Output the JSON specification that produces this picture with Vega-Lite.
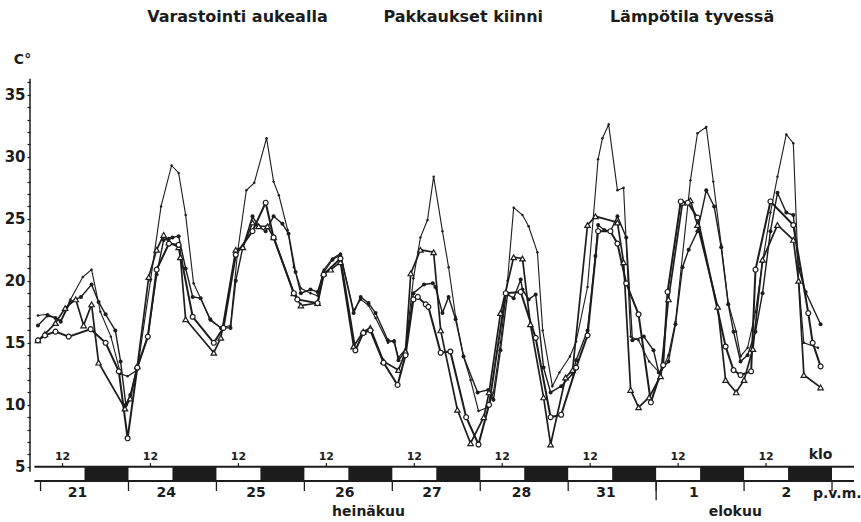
{
  "$schema": "https://vega.github.io/schema/vega-lite/v6.json",
  "width": 824,
  "height": 434,
  "autosize": {"type": "none"},
  "padding": {"left": 30, "top": 70, "right": 7, "bottom": 18},
  "background": "white",
  "title": {
    "text": "Varastointi aukealla\u00a0\u00a0\u00a0\u00a0\u00a0\u00a0\u00a0\u00a0\u00a0\u00a0Pakkaukset kiinni\u00a0\u00a0\u00a0\u00a0\u00a0\u00a0\u00a0\u00a0\u00a0\u00a0\u00a0\u00a0Lämpötila tyvessä",
    "anchor": "start",
    "dx": 143,
    "offset": 27,
    "font": "DejaVu Sans",
    "fontSize": 16,
    "fontWeight": "bold",
    "color": "#1c1c1c"
  },
  "config": {"view": {"stroke": null}, "axis": {"grid": false}},
  "resolve": {"axis": {"x": "independent", "y": "independent"}},
  "datasets": {
    "series": [
      {"s":"P","t":-0.03,"v":17.2},{"s":"P","t":0.08,"v":17.3},{"s":"P","t":0.23,"v":16.8},{"s":"P","t":0.34,"v":18.5},{"s":"P","t":0.48,"v":20.3},{"s":"P","t":0.58,"v":20.9},{"s":"P","t":0.68,"v":17.5},{"s":"P","t":0.8,"v":15.5},{"s":"P","t":0.91,"v":12.5},{"s":"P","t":0.99,"v":12.3},{"s":"P","t":1.1,"v":12.8},{"s":"P","t":1.25,"v":20.0},{"s":"P","t":1.37,"v":26.0},{"s":"P","t":1.49,"v":29.3},{"s":"P","t":1.57,"v":28.7},{"s":"P","t":1.65,"v":25.3},{"s":"P","t":1.74,"v":19.8},{"s":"P","t":1.82,"v":18.6},{"s":"P","t":1.93,"v":16.8},{"s":"P","t":2.05,"v":16.2},{"s":"P","t":2.16,"v":16.4},{"s":"P","t":2.24,"v":22.3},{"s":"P","t":2.34,"v":27.3},{"s":"P","t":2.43,"v":27.9},{"s":"P","t":2.57,"v":31.5},{"s":"P","t":2.65,"v":28.0},{"s":"P","t":2.71,"v":26.9},{"s":"P","t":2.81,"v":24.1},{"s":"P","t":2.88,"v":21.1},{"s":"P","t":2.96,"v":19.4},{"s":"P","t":3.07,"v":19.0},{"s":"P","t":3.15,"v":18.8},{"s":"P","t":3.22,"v":20.9},{"s":"P","t":3.32,"v":21.8},{"s":"P","t":3.41,"v":22.2},{"s":"P","t":3.56,"v":17.6},{"s":"P","t":3.64,"v":18.5},{"s":"P","t":3.73,"v":18.0},{"s":"P","t":3.81,"v":17.0},{"s":"P","t":3.95,"v":15.0},{"s":"P","t":4.02,"v":15.2},{"s":"P","t":4.07,"v":13.8},{"s":"P","t":4.15,"v":14.5},{"s":"P","t":4.24,"v":20.2},{"s":"P","t":4.32,"v":23.5},{"s":"P","t":4.4,"v":24.9},{"s":"P","t":4.47,"v":28.4},{"s":"P","t":4.57,"v":24.0},{"s":"P","t":4.64,"v":21.1},{"s":"P","t":4.72,"v":17.1},{"s":"P","t":4.81,"v":13.9},{"s":"P","t":4.89,"v":12.0},{"s":"P","t":4.98,"v":9.5},{"s":"P","t":5.09,"v":9.8},{"s":"P","t":5.15,"v":11.0},{"s":"P","t":5.23,"v":15.0},{"s":"P","t":5.31,"v":20.0},{"s":"P","t":5.38,"v":25.9},{"s":"P","t":5.48,"v":25.3},{"s":"P","t":5.55,"v":24.4},{"s":"P","t":5.65,"v":22.3},{"s":"P","t":5.71,"v":16.0},{"s":"P","t":5.82,"v":11.5},{"s":"P","t":5.9,"v":12.6},{"s":"P","t":6.02,"v":13.9},{"s":"P","t":6.09,"v":15.1},{"s":"P","t":6.22,"v":19.5},{"s":"P","t":6.34,"v":29.8},{"s":"P","t":6.39,"v":31.5},{"s":"P","t":6.46,"v":32.6},{"s":"P","t":6.56,"v":27.3},{"s":"P","t":6.63,"v":27.5},{"s":"P","t":6.71,"v":15.5},{"s":"P","t":6.8,"v":15.2},{"s":"P","t":6.92,"v":13.5},{"s":"P","t":7.05,"v":12.5},{"s":"P","t":7.14,"v":14.0},{"s":"P","t":7.22,"v":16.7},{"s":"P","t":7.39,"v":28.1},{"s":"P","t":7.47,"v":31.9},{"s":"P","t":7.57,"v":32.4},{"s":"P","t":7.65,"v":28.0},{"s":"P","t":7.74,"v":22.9},{"s":"P","t":7.82,"v":18.2},{"s":"P","t":7.91,"v":15.9},{"s":"P","t":7.96,"v":13.9},{"s":"P","t":8.04,"v":14.6},{"s":"P","t":8.13,"v":17.5},{"s":"P","t":8.21,"v":21.5},{"s":"P","t":8.3,"v":25.5},{"s":"P","t":8.38,"v":28.4},{"s":"P","t":8.48,"v":31.8},{"s":"P","t":8.56,"v":31.1},{"s":"P","t":8.62,"v":20.0},{"s":"P","t":8.68,"v":15.0},{"s":"P","t":8.84,"v":14.6},
      {"s":"D","t":-0.03,"v":16.4},{"s":"D","t":0.08,"v":17.2},{"s":"D","t":0.17,"v":17.0},{"s":"D","t":0.23,"v":16.7},{"s":"D","t":0.34,"v":18.3},{"s":"D","t":0.46,"v":18.7},{"s":"D","t":0.58,"v":19.7},{"s":"D","t":0.66,"v":18.3},{"s":"D","t":0.74,"v":17.3},{"s":"D","t":0.85,"v":16.0},{"s":"D","t":0.91,"v":13.5},{"s":"D","t":0.97,"v":10.0},{"s":"D","t":1.02,"v":10.8},{"s":"D","t":1.1,"v":13.1},{"s":"D","t":1.22,"v":15.5},{"s":"D","t":1.32,"v":20.5},{"s":"D","t":1.4,"v":23.3},{"s":"D","t":1.46,"v":23.4},{"s":"D","t":1.5,"v":23.5},{"s":"D","t":1.57,"v":23.6},{"s":"D","t":1.65,"v":21.0},{"s":"D","t":1.73,"v":18.7},{"s":"D","t":1.82,"v":18.6},{"s":"D","t":1.93,"v":16.9},{"s":"D","t":2.05,"v":16.2},{"s":"D","t":2.16,"v":16.2},{"s":"D","t":2.22,"v":20.0},{"s":"D","t":2.3,"v":22.7},{"s":"D","t":2.41,"v":25.2},{"s":"D","t":2.48,"v":24.4},{"s":"D","t":2.56,"v":24.0},{"s":"D","t":2.65,"v":25.2},{"s":"D","t":2.75,"v":24.6},{"s":"D","t":2.82,"v":23.8},{"s":"D","t":2.9,"v":20.7},{"s":"D","t":2.96,"v":19.0},{"s":"D","t":3.07,"v":19.3},{"s":"D","t":3.15,"v":19.1},{"s":"D","t":3.22,"v":20.7},{"s":"D","t":3.32,"v":21.7},{"s":"D","t":3.41,"v":22.1},{"s":"D","t":3.56,"v":17.4},{"s":"D","t":3.64,"v":18.7},{"s":"D","t":3.73,"v":18.2},{"s":"D","t":3.81,"v":17.4},{"s":"D","t":3.95,"v":15.2},{"s":"D","t":4.02,"v":15.1},{"s":"D","t":4.07,"v":13.6},{"s":"D","t":4.15,"v":14.3},{"s":"D","t":4.24,"v":19.0},{"s":"D","t":4.36,"v":19.7},{"s":"D","t":4.46,"v":19.8},{"s":"D","t":4.49,"v":19.5},{"s":"D","t":4.57,"v":17.4},{"s":"D","t":4.64,"v":18.7},{"s":"D","t":4.72,"v":16.9},{"s":"D","t":4.81,"v":13.9},{"s":"D","t":4.97,"v":11.0},{"s":"D","t":5.09,"v":11.2},{"s":"D","t":5.15,"v":10.4},{"s":"D","t":5.23,"v":14.4},{"s":"D","t":5.31,"v":18.9},{"s":"D","t":5.38,"v":18.6},{"s":"D","t":5.46,"v":20.1},{"s":"D","t":5.48,"v":19.3},{"s":"D","t":5.55,"v":18.5},{"s":"D","t":5.63,"v":18.9},{"s":"D","t":5.72,"v":13.0},{"s":"D","t":5.8,"v":11.0},{"s":"D","t":5.92,"v":11.5},{"s":"D","t":6.05,"v":12.5},{"s":"D","t":6.09,"v":13.6},{"s":"D","t":6.22,"v":16.0},{"s":"D","t":6.31,"v":22.0},{"s":"D","t":6.34,"v":24.5},{"s":"D","t":6.41,"v":24.1},{"s":"D","t":6.48,"v":24.0},{"s":"D","t":6.56,"v":25.2},{"s":"D","t":6.66,"v":23.5},{"s":"D","t":6.73,"v":15.2},{"s":"D","t":6.86,"v":15.5},{"s":"D","t":6.97,"v":14.4},{"s":"D","t":7.03,"v":12.6},{"s":"D","t":7.14,"v":13.5},{"s":"D","t":7.22,"v":16.5},{"s":"D","t":7.3,"v":21.1},{"s":"D","t":7.37,"v":22.5},{"s":"D","t":7.47,"v":24.0},{"s":"D","t":7.57,"v":27.3},{"s":"D","t":7.66,"v":26.0},{"s":"D","t":7.74,"v":22.7},{"s":"D","t":7.82,"v":18.1},{"s":"D","t":7.88,"v":15.9},{"s":"D","t":7.96,"v":13.5},{"s":"D","t":8.04,"v":14.0},{"s":"D","t":8.13,"v":15.9},{"s":"D","t":8.21,"v":19.0},{"s":"D","t":8.3,"v":24.0},{"s":"D","t":8.38,"v":27.1},{"s":"D","t":8.48,"v":25.5},{"s":"D","t":8.56,"v":25.3},{"s":"D","t":8.62,"v":21.0},{"s":"D","t":8.7,"v":19.1},{"s":"D","t":8.87,"v":16.5},
      {"s":"T","t":-0.03,"v":15.2},{"s":"T","t":0.05,"v":15.7},{"s":"T","t":0.17,"v":16.6},{"s":"T","t":0.28,"v":17.8},{"s":"T","t":0.4,"v":18.5},{"s":"T","t":0.49,"v":16.4},{"s":"T","t":0.58,"v":18.1},{"s":"T","t":0.66,"v":13.4},{"s":"T","t":0.96,"v":9.7},{"s":"T","t":1.02,"v":10.5},{"s":"T","t":1.1,"v":13.1},{"s":"T","t":1.23,"v":20.3},{"s":"T","t":1.32,"v":22.5},{"s":"T","t":1.4,"v":23.7},{"s":"T","t":1.46,"v":23.1},{"s":"T","t":1.57,"v":22.7},{"s":"T","t":1.59,"v":21.9},{"s":"T","t":1.65,"v":16.9},{"s":"T","t":1.97,"v":14.2},{"s":"T","t":2.05,"v":15.4},{"s":"T","t":2.22,"v":22.5},{"s":"T","t":2.3,"v":22.7},{"s":"T","t":2.41,"v":24.7},{"s":"T","t":2.48,"v":24.4},{"s":"T","t":2.58,"v":24.4},{"s":"T","t":2.65,"v":23.5},{"s":"T","t":2.88,"v":19.0},{"s":"T","t":2.96,"v":18.0},{"s":"T","t":3.15,"v":18.2},{"s":"T","t":3.22,"v":20.6},{"s":"T","t":3.3,"v":20.9},{"s":"T","t":3.41,"v":21.5},{"s":"T","t":3.56,"v":14.7},{"s":"T","t":3.67,"v":15.9},{"s":"T","t":3.75,"v":16.2},{"s":"T","t":3.9,"v":13.5},{"s":"T","t":4.07,"v":12.8},{"s":"T","t":4.15,"v":14.3},{"s":"T","t":4.21,"v":20.6},{"s":"T","t":4.32,"v":22.5},{"s":"T","t":4.47,"v":22.3},{"s":"T","t":4.55,"v":16.0},{"s":"T","t":4.74,"v":9.6},{"s":"T","t":4.89,"v":6.9},{"s":"T","t":5.04,"v":9.0},{"s":"T","t":5.1,"v":11.0},{"s":"T","t":5.23,"v":17.4},{"s":"T","t":5.38,"v":21.9},{"s":"T","t":5.48,"v":21.8},{"s":"T","t":5.57,"v":16.5},{"s":"T","t":5.72,"v":10.6},{"s":"T","t":5.8,"v":6.8},{"s":"T","t":5.97,"v":12.2},{"s":"T","t":6.05,"v":12.8},{"s":"T","t":6.22,"v":24.5},{"s":"T","t":6.31,"v":25.2},{"s":"T","t":6.56,"v":24.7},{"s":"T","t":6.63,"v":21.5},{"s":"T","t":6.71,"v":11.2},{"s":"T","t":6.8,"v":9.8},{"s":"T","t":6.92,"v":10.6},{"s":"T","t":7.05,"v":12.3},{"s":"T","t":7.14,"v":18.5},{"s":"T","t":7.3,"v":26.3},{"s":"T","t":7.39,"v":26.5},{"s":"T","t":7.47,"v":24.5},{"s":"T","t":7.7,"v":17.9},{"s":"T","t":7.79,"v":12.0},{"s":"T","t":7.91,"v":11.0},{"s":"T","t":8.0,"v":12.0},{"s":"T","t":8.1,"v":14.5},{"s":"T","t":8.21,"v":21.7},{"s":"T","t":8.38,"v":24.5},{"s":"T","t":8.56,"v":23.3},{"s":"T","t":8.62,"v":20.0},{"s":"T","t":8.68,"v":12.4},{"s":"T","t":8.87,"v":11.4},
      {"s":"C","t":-0.03,"v":15.2},{"s":"C","t":0.05,"v":15.6},{"s":"C","t":0.17,"v":15.9},{"s":"C","t":0.32,"v":15.5},{"s":"C","t":0.57,"v":16.1},{"s":"C","t":0.74,"v":15.0},{"s":"C","t":0.89,"v":12.7},{"s":"C","t":0.99,"v":7.3},{"s":"C","t":1.1,"v":13.0},{"s":"C","t":1.22,"v":15.5},{"s":"C","t":1.32,"v":20.9},{"s":"C","t":1.46,"v":23.0},{"s":"C","t":1.57,"v":22.9},{"s":"C","t":1.73,"v":17.1},{"s":"C","t":1.97,"v":15.0},{"s":"C","t":2.08,"v":16.2},{"s":"C","t":2.22,"v":22.1},{"s":"C","t":2.41,"v":24.0},{"s":"C","t":2.56,"v":26.3},{"s":"C","t":2.65,"v":23.5},{"s":"C","t":2.88,"v":19.0},{"s":"C","t":2.92,"v":18.5},{"s":"C","t":3.15,"v":18.2},{"s":"C","t":3.22,"v":20.5},{"s":"C","t":3.41,"v":21.8},{"s":"C","t":3.58,"v":14.4},{"s":"C","t":3.67,"v":15.8},{"s":"C","t":3.75,"v":16.0},{"s":"C","t":3.9,"v":13.4},{"s":"C","t":4.06,"v":11.6},{"s":"C","t":4.15,"v":14.0},{"s":"C","t":4.24,"v":18.5},{"s":"C","t":4.29,"v":18.7},{"s":"C","t":4.38,"v":18.1},{"s":"C","t":4.41,"v":17.9},{"s":"C","t":4.55,"v":14.2},{"s":"C","t":4.66,"v":14.3},{"s":"C","t":4.84,"v":9.0},{"s":"C","t":4.98,"v":6.8},{"s":"C","t":5.1,"v":10.0},{"s":"C","t":5.29,"v":19.0},{"s":"C","t":5.46,"v":19.1},{"s":"C","t":5.63,"v":15.4},{"s":"C","t":5.8,"v":9.0},{"s":"C","t":5.92,"v":9.2},{"s":"C","t":6.09,"v":13.0},{"s":"C","t":6.22,"v":15.6},{"s":"C","t":6.34,"v":24.0},{"s":"C","t":6.48,"v":24.0},{"s":"C","t":6.56,"v":23.0},{"s":"C","t":6.66,"v":19.8},{"s":"C","t":6.8,"v":17.3},{"s":"C","t":6.94,"v":10.2},{"s":"C","t":7.08,"v":13.2},{"s":"C","t":7.13,"v":19.1},{"s":"C","t":7.28,"v":26.4},{"s":"C","t":7.36,"v":26.3},{"s":"C","t":7.47,"v":25.1},{"s":"C","t":7.79,"v":14.7},{"s":"C","t":7.88,"v":12.8},{"s":"C","t":7.96,"v":12.4},{"s":"C","t":8.08,"v":12.7},{"s":"C","t":8.13,"v":20.9},{"s":"C","t":8.3,"v":26.4},{"s":"C","t":8.56,"v":24.5},{"s":"C","t":8.73,"v":17.4},{"s":"C","t":8.78,"v":15.0},{"s":"C","t":8.87,"v":13.1}
    ],
    "nights": [
      {"t":0.5,"t2":1},{"t":1.5,"t2":2},{"t":2.5,"t2":3},{"t":3.5,"t2":4},{"t":4.5,"t2":5},{"t":5.5,"t2":6},{"t":6.5,"t2":7},{"t":7.5,"t2":8},{"t":8.5,"t2":9}
    ],
    "bounds": [{"t":0},{"t":1},{"t":2},{"t":3},{"t":4},{"t":5},{"t":6},{"t":7},{"t":8},{"t":9}],
    "noons": [{"t":0.25,"lab":"12"},{"t":1.25,"lab":"12"},{"t":2.25,"lab":"12"},{"t":3.25,"lab":"12"},{"t":4.25,"lab":"12"},{"t":5.25,"lab":"12"},{"t":6.25,"lab":"12"},{"t":7.25,"lab":"12"},{"t":8.25,"lab":"12"}],
    "days": [{"t":0.42,"lab":"21"},{"t":1.43,"lab":"24"},{"t":2.45,"lab":"25"},{"t":3.46,"lab":"26"},{"t":4.45,"lab":"27"},{"t":5.47,"lab":"28"},{"t":6.43,"lab":"31"},{"t":7.43,"lab":"1"},{"t":8.48,"lab":"2"}],
    "notes": [{"t":8.87,"v":5.95,"lab":"klo"},{"t":9.06,"v":2.82,"lab":"p.v.m."},{"t":3.73,"v":1.35,"lab":"heinäkuu"},{"t":7.9,"v":1.35,"lab":"elokuu"}]
  },
  "layer": [
    {
      "data": {"name": "series"},
      "mark": {"type": "line", "color": "#1c1c1c"},
      "encoding": {
        "x": {"field": "t", "type": "quantitative", "scale": {"domain": [-0.12, 9.25], "nice": false, "zero": false}, "axis": null},
        "y": {
          "field": "v", "type": "quantitative",
          "scale": {"domain": [2, 37], "nice": false, "zero": false},
          "axis": {
            "values": [5,6,7,8,9,10,11,12,13,14,15,16,17,18,19,20,21,22,23,24,25,26,27,28,29,30,31,32,33,34,35,36],
            "labelExpr": "datum.value % 5 === 0 ? datum.label : ''",
            "domain": false, "tickSize": 3, "tickColor": "#1c1c1c", "tickWidth": 1.2,
            "labelFont": "DejaVu Sans", "labelFontWeight": "bold", "labelFontSize": 15, "labelColor": "#1c1c1c",
            "labelPadding": 2, "labelOverlap": false, "labelBound": false,
            "title": "C°", "titleAngle": 0, "titleX": -8, "titleY": -4, "titleAlign": "center", "titleBaseline": "bottom",
            "titleFont": "DejaVu Sans", "titleFontSize": 14, "titleFontWeight": "bold", "titleColor": "#1c1c1c"
          }
        },
        "detail": {"field": "s", "type": "nominal"},
        "strokeWidth": {"field": "s", "type": "nominal", "scale": {"domain": ["P", "D", "T", "C"], "range": [1.1, 2.0, 1.2, 1.2]}, "legend": null}
      }
    },
    {
      "data": {"name": "series"},
      "transform": [{"filter": "datum.s === 'P'"}],
      "mark": {"type": "point", "filled": true, "size": 6, "color": "#1c1c1c", "opacity": 1},
      "encoding": {"x": {"field": "t", "type": "quantitative", "axis": null}, "y": {"field": "v", "type": "quantitative", "axis": null}}
    },
    {
      "data": {"name": "series"},
      "transform": [{"filter": "datum.s === 'D'"}],
      "mark": {"type": "point", "filled": true, "size": 16, "color": "#1c1c1c", "opacity": 1},
      "encoding": {"x": {"field": "t", "type": "quantitative", "axis": null}, "y": {"field": "v", "type": "quantitative", "axis": null}}
    },
    {
      "data": {"name": "series"},
      "transform": [{"filter": "datum.s === 'T'"}],
      "mark": {"type": "point", "shape": "triangle-up", "filled": true, "fill": "white", "stroke": "#1c1c1c", "strokeWidth": 1.2, "size": 30, "opacity": 1},
      "encoding": {"x": {"field": "t", "type": "quantitative", "axis": null}, "y": {"field": "v", "type": "quantitative", "axis": null}}
    },
    {
      "data": {"name": "series"},
      "transform": [{"filter": "datum.s === 'C'"}],
      "mark": {"type": "point", "shape": "circle", "filled": true, "fill": "white", "stroke": "#1c1c1c", "strokeWidth": 1.2, "size": 24, "opacity": 1},
      "encoding": {"x": {"field": "t", "type": "quantitative", "axis": null}, "y": {"field": "v", "type": "quantitative", "axis": null}}
    },
    {
      "data": {"values": [{"k": 1}]},
      "mark": {"type": "rule", "color": "#1c1c1c", "strokeWidth": 1.5},
      "encoding": {"x": {"datum": -0.12, "type": "quantitative", "axis": null}, "y": {"datum": 4.6, "type": "quantitative", "axis": null}, "y2": {"datum": 36.3}}
    },
    {
      "data": {"name": "nights"},
      "mark": {"type": "rect", "color": "#1c1c1c"},
      "encoding": {"x": {"field": "t", "type": "quantitative", "axis": null}, "x2": {"field": "t2"}, "y": {"datum": 5, "type": "quantitative", "axis": null}, "y2": {"datum": 3.85}}
    },
    {
      "data": {"values": [{"k": 1}]},
      "mark": {"type": "rule", "color": "#1c1c1c", "strokeWidth": 2},
      "encoding": {"x": {"datum": -0.07, "type": "quantitative", "axis": null}, "x2": {"datum": 9.25}, "y": {"datum": 5, "type": "quantitative", "axis": null}}
    },
    {
      "data": {"values": [{"k": 1}]},
      "mark": {"type": "rule", "color": "#1c1c1c", "strokeWidth": 2},
      "encoding": {"x": {"datum": -0.07, "type": "quantitative", "axis": null}, "x2": {"datum": 9.25}, "y": {"datum": 3.85, "type": "quantitative", "axis": null}}
    },
    {
      "data": {"name": "bounds"},
      "mark": {"type": "rule", "color": "#1c1c1c", "strokeWidth": 1.3},
      "encoding": {"x": {"field": "t", "type": "quantitative", "axis": null}, "y": {"datum": 3.85, "type": "quantitative", "axis": null}, "y2": {"datum": 3.05}}
    },
    {
      "data": {"values": [{"k": 1}]},
      "mark": {"type": "rule", "color": "#1c1c1c", "strokeWidth": 1.3},
      "encoding": {"x": {"datum": 7, "type": "quantitative", "axis": null}, "y": {"datum": 3.85, "type": "quantitative", "axis": null}, "y2": {"datum": 2.3}}
    },
    {
      "data": {"name": "noons"},
      "mark": {"type": "rule", "color": "#1c1c1c", "strokeWidth": 1.2},
      "encoding": {"x": {"field": "t", "type": "quantitative", "axis": null}, "y": {"datum": 5, "type": "quantitative", "axis": null}, "y2": {"datum": 5.3}}
    },
    {
      "data": {"name": "noons"},
      "mark": {"type": "text", "font": "DejaVu Sans", "fontSize": 11, "fontWeight": "bold", "color": "#1c1c1c", "baseline": "bottom"},
      "encoding": {"x": {"field": "t", "type": "quantitative", "axis": null}, "y": {"datum": 5.4, "type": "quantitative", "axis": null}, "text": {"field": "lab"}}
    },
    {
      "data": {"name": "days"},
      "mark": {"type": "text", "font": "DejaVu Sans", "fontSize": 14, "fontWeight": "bold", "color": "#1c1c1c", "baseline": "middle"},
      "encoding": {"x": {"field": "t", "type": "quantitative", "axis": null}, "y": {"datum": 2.9, "type": "quantitative", "axis": null}, "text": {"field": "lab"}}
    },
    {
      "data": {"name": "notes"},
      "mark": {"type": "text", "font": "DejaVu Sans", "fontSize": 14, "fontWeight": "bold", "color": "#1c1c1c", "baseline": "middle"},
      "encoding": {"x": {"field": "t", "type": "quantitative", "axis": null}, "y": {"field": "v", "type": "quantitative", "axis": null}, "text": {"field": "lab"}}
    }
  ]
}
